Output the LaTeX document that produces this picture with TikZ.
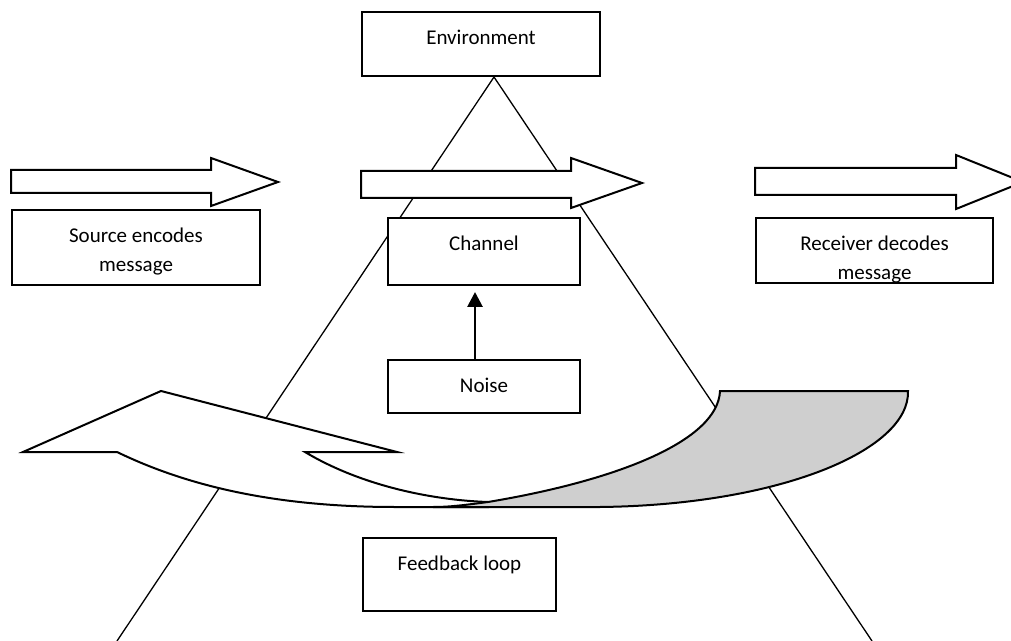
\documentclass[tikz,border=0pt]{standalone}
\usepackage{fontspec}
\setmainfont{Carlito}
\usetikzlibrary{arrows.meta,positioning}
\tikzset{
  box/.style={draw=black,fill=white,line width=1pt,anchor=north west,inner sep=0pt},
  boxtext/.style={anchor=north,inner sep=0pt,yshift=-9.1pt,align=center,font=\fontsize{10.5}{14.5}\selectfont},
  blockarrow/.style={draw=black,fill=white,line width=1pt,line join=miter},
  edge/.style={draw=black,line width=0.65pt},
  ribbon/.style={draw=black,fill=white,line width=1pt},
  ribbonback/.style={ribbon,fill=black!19},
  noisearrow/.style={-{Triangle[length=7.5pt,width=7.5pt]},line width=1.4pt,shorten >=3pt},
}

\begin{document}
\begin{tikzpicture}[x=0.5pt,y=-0.5pt]
  \path[use as bounding box,clip] (0,0) rectangle (1011,641);
  \node[box,minimum width=119pt,minimum height=32pt,label={[boxtext]north:Environment}] (env) at (361,11) {};
  % triangle behind the rest
  \coordinate (bl) at (117,641);
  \coordinate (br) at (872,641);
  \draw[edge] (bl) -- ([xshift=6.5pt]env.south) -- (br);
  % block arrows
  \draw[blockarrow] (11,170) -- (211,170) -- (211,158) -- (278,182) -- (211,206) -- (211,193) -- (11,193) -- cycle;
  \draw[blockarrow] (361,171) -- (571,171) -- (571,158) -- (642,183) -- (571,208) -- (571,198) -- (361,198) -- cycle;
  \draw[blockarrow] (755,168) -- (956,168) -- (956,155) -- (1023,182) -- (956,209) -- (956,195) -- (755,195) -- cycle;
  % boxes
  \node[box,minimum width=124pt,minimum height=37.5pt,label={[boxtext]north:Source encodes\\message}] (src) at (11,209) {};
  \node[box,minimum width=96pt,minimum height=33.5pt,label={[boxtext]north:Channel}] (chan) at (387,217) {};
  \node[box,minimum width=96pt,minimum height=26.5pt,label={[boxtext]north:Noise}] (noise) at (387,359) {};
  \node[box,minimum width=118.5pt,minimum height=32.5pt] (rcv) at (755,217) {};
  \begin{scope}
    \clip (rcv.north west) rectangle (rcv.south east);
    \node[boxtext] (rcvtext) at (rcv.north) {Receiver decodes\\message};
  \end{scope}
  \node[box,minimum width=96.5pt,minimum height=36.5pt,label={[boxtext]north:Feedback loop}] (fb) at (362,537) {};
  \draw[noisearrow] ([xshift=-4.5pt]noise.north) -- ([xshift=-4.5pt]chan.south);
  % feedback ribbon
  \draw[ribbon] (23,452) -- (161,391) -- (397,452) -- (305,452)
    .. controls (360,485) and (430,500) .. (488,502) -- (488,507) -- (395,507)
    .. controls (260,507) and (175,480) .. (117,452) -- cycle;
  \draw[ribbonback] (433,507) -- (600,507) .. controls (780,505) and (910,450) .. (908,391)
    -- (720,391) .. controls (718,440) and (620,480) .. (488,502)
    .. controls (465,505) and (450,507) .. (433,507) -- cycle;
\end{tikzpicture}
\end{document}
